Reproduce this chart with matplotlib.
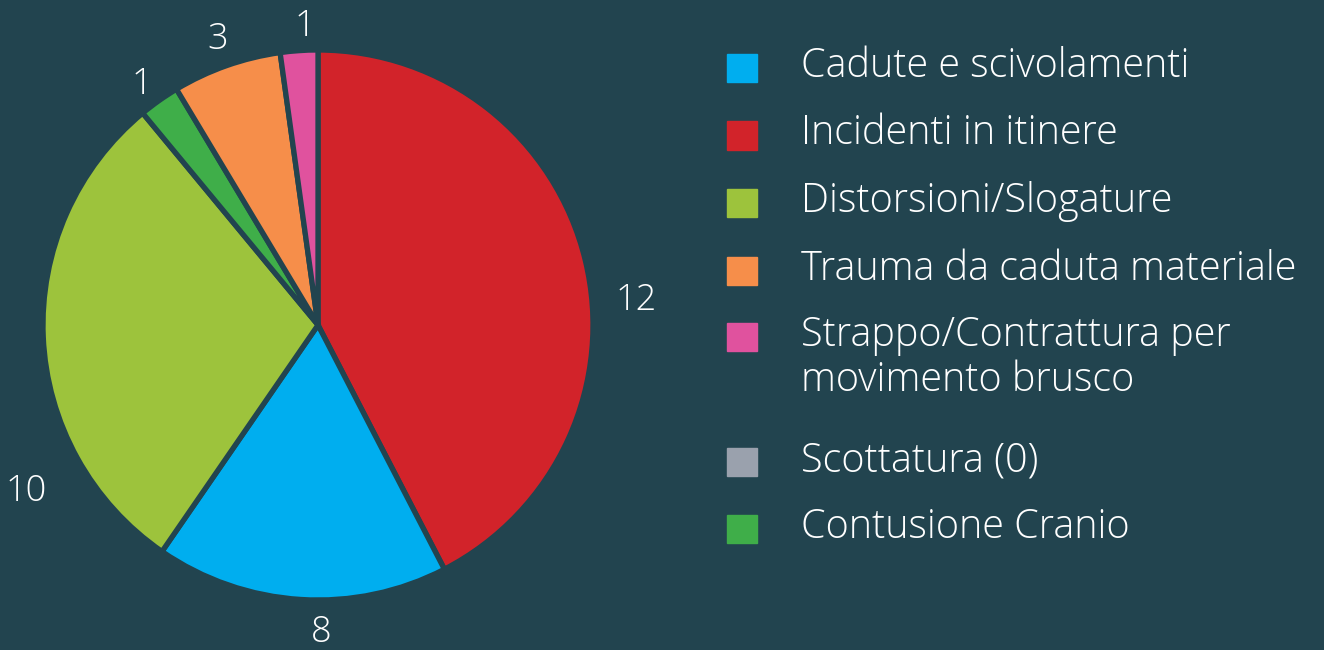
import numpy as np
import matplotlib
matplotlib.use("Agg")
from matplotlib import pyplot as plt
from matplotlib.patches import Rectangle

# slices, clockwise from 12 o'clock
slice_names = ["Incidenti in itinere", "Cadute e scivolamenti", "Distorsioni/Slogature",
               "Contusione Cranio", "Trauma da caduta materiale", "Strappo/Contrattura per movimento brusco"]
slice_counts = [12, 8, 10, 1, 3, 1]                 # numbers printed next to the slices
slice_shares = [42.4, 17.2, 29.4, 2.4, 6.4, 2.2]     # share of the circle each slice takes (%)

legend_names = ["Cadute e scivolamenti", "Incidenti in itinere", "Distorsioni/Slogature",
                "Trauma da caduta materiale", "Strappo/Contrattura per\nmovimento brusco",
                "Scottatura (0)", "Contusione Cranio"]

colors = {
    "Incidenti in itinere": "#D2232A",
    "Cadute e scivolamenti": "#00AEEF",
    "Distorsioni/Slogature": "#9DC33C",
    "Contusione Cranio": "#3FAE49",
    "Trauma da caduta materiale": "#F68E4A",
    "Strappo/Contrattura per movimento brusco": "#E0529E",
    "Scottatura (0)": "#9AA1AD",
}
legend_colors = [colors[n.replace("\n", " ")] for n in legend_names]

bg = "#22444F"
W, H = 1324, 650
font = dict(family=["Open Sans", "DejaVu Sans"], weight="light", color="white")

fig = plt.figure(figsize=(W / 100, H / 100), dpi=100, facecolor=bg)

# pie axes: centre (318, 325) px, radius 275 px
cx, cy, r = 318, 325, 275
ax = fig.add_axes([(cx - r) / W, (H - cy - r) / H, 2 * r / W, 2 * r / H])

wedges, _ = ax.pie(slice_shares, colors=[colors[n] for n in slice_names], startangle=90,
                   counterclock=False, radius=1,
                   wedgeprops=dict(edgecolor=bg, linewidth=3.8))
ax.set_xlim(-1, 1)
ax.set_ylim(-1, 1)
ax.set_aspect("equal")
ax.axis("off")

# label placement tweaks (angle shift in degrees, distance from centre)
label_shift = [-9.3, 4.2, 27.2, 1.0, 0.0, -1.5]
label_dist = [1.16, 1.12, 1.22, 1.085, 1.10, 1.085]
for w, n, sh, d in zip(wedges, slice_counts, label_shift, label_dist):
    a = np.deg2rad((w.theta1 + w.theta2) / 2 + sh)
    ax.text(d * np.cos(a), d * np.sin(a), str(n), ha="center", va="center",
            fontsize=26, clip_on=False, **font)

# legend drawn by hand so the squares line up with the first text line
row_y = [68, 135.5, 203, 271, 337, 462, 528.5]
for name, col, y in zip(legend_names, legend_colors, row_y):
    fig.patches.append(Rectangle((727 / W, 1 - (y + 14) / H), 30 / W, 28 / H,
                                 transform=fig.transFigure, color=col))
    for i, line in enumerate(name.split("\n")):
        fig.text(801 / W, 1 - (y + 9 + 45 * i) / H, line, ha="left", va="baseline",
                 fontsize=28.5, **font)

fig.savefig("out.png", dpi=100, facecolor=bg)
